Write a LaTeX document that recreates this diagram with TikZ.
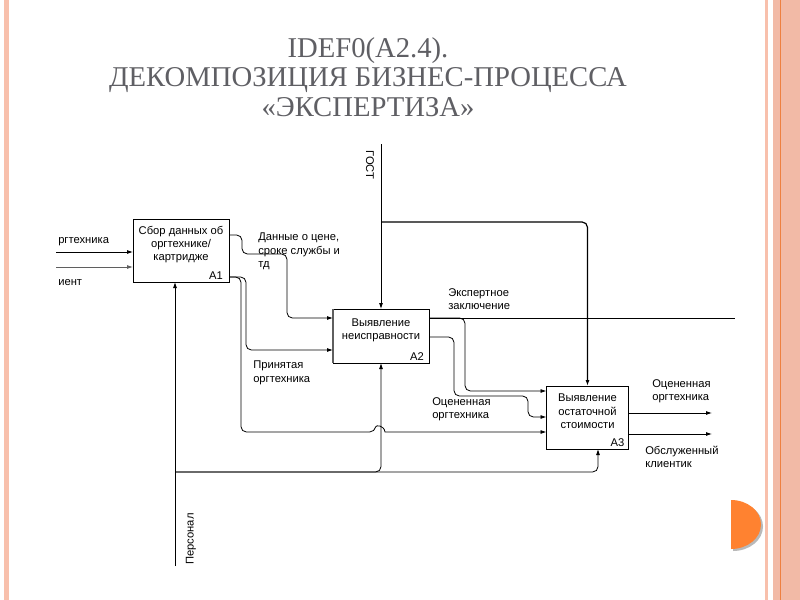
\documentclass[tikz,border=0pt]{standalone}
\usepackage{fontspec}
\setmainfont{Liberation Sans}
\newfontfamily\titlefont{Liberation Serif}
\usetikzlibrary{arrows.meta,calc}
\newcommand{\dgmfont}{\fontsize{8.4pt}{10pt}\selectfont}
\definecolor{pinkbar}{RGB}{248,192,172}
\definecolor{pinkband}{RGB}{242,186,166}
\definecolor{orangeline}{RGB}{238,128,64}
\definecolor{orangedot}{RGB}{255,130,48}
\definecolor{titlegray}{RGB}{95,95,100}
\definecolor{linegray}{RGB}{95,95,95}
\begin{document}
\begin{tikzpicture}[x=0.75pt,y=-0.75pt,
  box/.style={draw=black, line width=0.6pt, fill=white, inner sep=0pt, outer sep=0pt},
  btxt/.style={align=center, inner sep=0pt, font=\dgmfont},
  lbl/.style={align=left, inner sep=0pt, font=\dgmfont, anchor=north west},
  slbl/.style={inner sep=0pt, font=\dgmfont, anchor=base west},
  alab/.style={inner sep=0pt, font=\dgmfont, anchor=base east},
  conn/.style={line width=0.6pt, rounded corners=4pt},
  arr/.style={-{Latex[length=4.5pt,width=3pt]}},
  titlestyle/.style={align=center, inner sep=0pt, text=titlegray,
    font=\titlefont\fontsize{21.5pt}{22.2pt}\selectfont}
]
% page
\fill[white] (0,0) rectangle (800,600);
\useasboundingbox (0,0) rectangle (800,600);
\fill[pinkbar] (4,0) rectangle (9,600);
\fill[pinkbar] (765,0) rectangle (768,600);
\fill[pinkband] (773,0) rectangle (800,600);
\draw[orangeline, line width=0.75pt] (780.5,0) -- (780.5,600);
\fill[gray!55] (733,502) arc (-90:90:30 and 24.5) -- cycle;
\fill[orangedot] (731,500) arc (-90:90:30 and 24.5) -- cycle;

% title
\node[titlestyle] (title) at (368,77) {IDEF0(A2.4).\\ДЕКОМПОЗИЦИЯ БИЗНЕС-ПРОЦЕССА\\«ЭКСПЕРТИЗА»};

% boxes
\node[box, minimum width=72pt, minimum height=47.25pt] (a1) at (181,250.5) {};
\node[box, minimum width=72pt, minimum height=40.5pt] (a2) at (381,336) {};
\node[box, minimum width=61.5pt, minimum height=47.25pt] (a3) at (587.5,417.5) {};
\draw[linegray, line width=1.4pt] (a2.north west) -- (a2.south west);

\node[btxt] (a1t) at ($(a1.center)+(0,-6)$) {Сбор данных об\\оргтехнике/\\картридже};
\node[btxt] (a2t) at ($(a2.center)+(0,-6)$) {Выявление\\неисправности};
\node[btxt] (a3t) at ($(a3.center)+(0,-6)$) {Выявление\\остаточной\\стоимости};
\node[alab] (a1n) at ($(a1.south east)+(-6,-2.5)$) {A1};
\node[alab] (a2n) at ($(a2.south east)+(-5,-2.5)$) {A2};
\node[alab] (a3n) at ($(a3.south east)+(-4,-3)$) {A3};

% coordinates
\coordinate (in1) at (56,252);
\coordinate (in2) at (56,267);
\coordinate (gost) at (381,144);
\coordinate (gb) at (381,222);
\coordinate (o1) at (0,235);
\coordinate (o2) at (0,277);
\coordinate (i2a) at (0,318);
\coordinate (i2b) at (0,350);
\coordinate (e2) at (0,337);
\coordinate (i3a) at (0,391);
\coordinate (i3b) at (0,417);
\coordinate (i3c) at (0,432);
\coordinate (out1) at (712,413);
\coordinate (out2) at (712,434);
\coordinate (expend) at (735,318);
\coordinate (pers) at (175,566);
\coordinate (pj) at (175,472);
\coordinate (m3) at (598,472);

% connectors
\draw[conn,arr] (in1) -- (a1.west |- in1);
\draw[conn,arr,draw=linegray] (in2) -- (a1.west |- in2);
\draw[conn,arr] (gost) -- (a2.north);
\draw[conn,arr,line width=0.9pt] (gb) -- (a3.north |- gb) -- (a3.north);
\draw[conn,arr] (a1.east |- o1) -- (242,235) -- (242,254) -- (287,254) -- (287,318) -- (a2.west |- i2a);
\draw[conn,arr] (a1.east |- o2) -- (246,277) -- (246,350) -- (a2.west |- i2b);
\draw[conn,arr] (a1.east |- o2) -- (241,277) -- (241,432) -- (375,432) [sharp corners] .. controls (376,425) and (384,425) .. (385,432) -- (a3.west |- i3c);
\draw[conn] (a2.east |- i2a) -- (expend);
\draw[conn,arr] (a2.east |- i2a) -- (465,318) -- (465,391) -- (a3.west |- i3a);
\draw[conn,arr] (a2.east |- e2) -- (454,337) -- (454,396) -- (528,396) -- (528,417) -- (a3.west |- i3b);
\draw[conn,arr] (a3.east |- out1) -- (out1);
\draw[conn,arr] (a3.east |- out2) -- (out2);
\draw[conn,arr] (pers) -- (pers |- a1.south);
\draw[conn,arr] (pj) -- (a2.south |- pj) -- (a2.south);
\draw[conn,arr] (pj) -- (m3) -- (m3 |- a3.south);

% labels
\node[slbl] (lin1) at (58,243) {ргтехника};
\node[slbl] (lin2) at (58,285) {иент};
\node[lbl] (ldata) at (258,233) {Данные о цене,\\сроке службы и\\тд};
\node[lbl] (lacc) at (253,361) {Принятая\\оргтехника};
\node[lbl] (lexp) at (448,288.5) {Экспертное\\заключение};
\node[lbl] (leval) at (432,397.5) {Оцененная\\оргтехника};
\node[lbl] (lout1) at (652,379) {Оцененная\\оргтехника};
\node[lbl] (lout2) at (645,446) {Обслуженный\\клиентик};
\node[inner sep=0pt, font=\dgmfont, rotate=-90] (lgost) at (370,165) {ГОСТ};
\node[inner sep=0pt, font=\dgmfont, rotate=90] (lpers) at (191,539) {Персонал};
\end{tikzpicture}
\end{document}
